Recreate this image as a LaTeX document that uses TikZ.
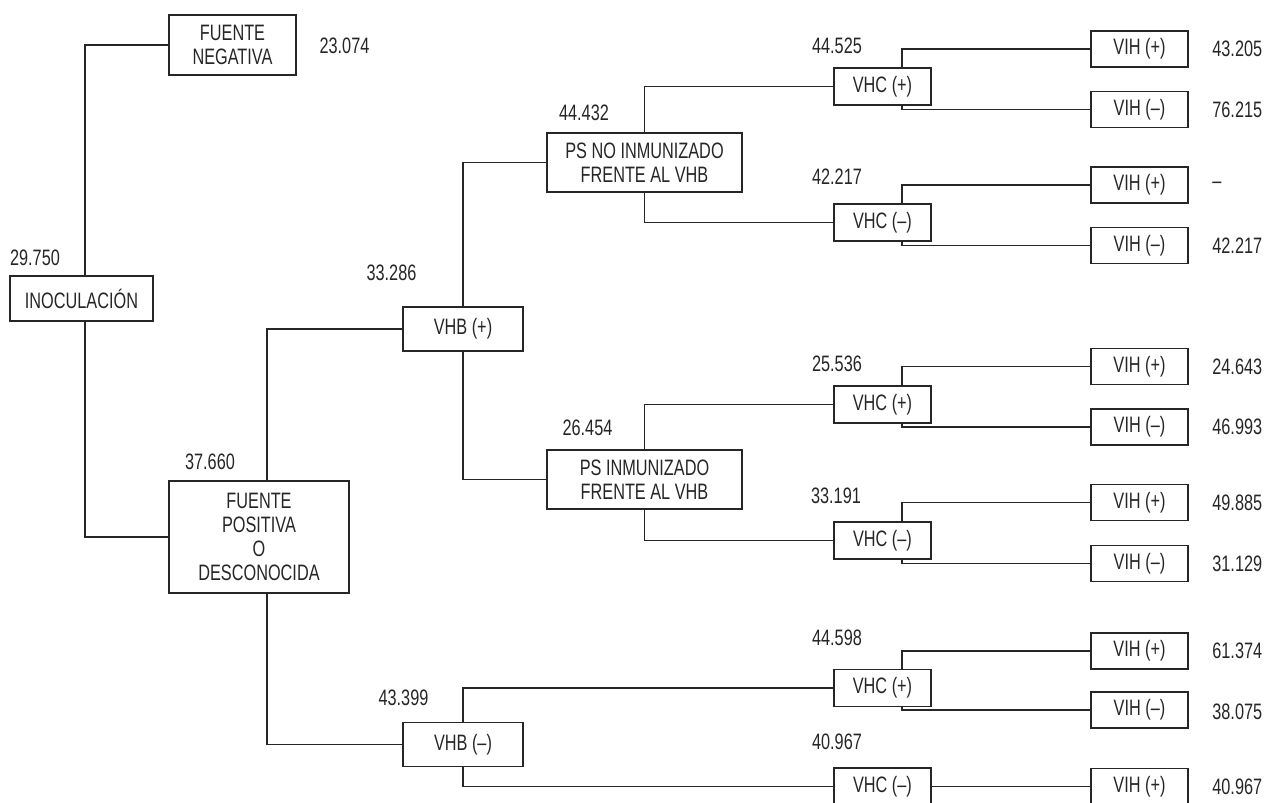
\documentclass[tikz,border=0pt]{standalone}
\usepackage{fontspec}
\setmainfont{Liberation Sans}[FakeStretch=0.73]
\usepackage{tikz}

\begin{document}
\begin{tikzpicture}[x=0.02cm, y=-0.02cm,
    every node/.style={font=\fontsize{12.7}{13.5}\selectfont, text=black!85},
    box/.style={draw=black!85, line width=0.6pt, inner sep=0pt, align=center},
    vhc/.style={box, minimum width=1.94cm, minimum height=0.74cm},
    vih/.style={box, minimum width=1.94cm, minimum height=0.72cm},
    link/.style={draw=black!85, line width=0.6pt}]
        \useasboundingbox (0,0) rectangle (1265,802);
        % left part of the tree
        \node (ino) [box, minimum width=2.86cm, minimum height=0.9cm] at (81.5,298.5) {INOCULACIÓN};
        \node (fneg) [box, minimum width=2.54cm, minimum height=1.2cm] at (232.5,45) {FUENTE\\NEGATIVA};
        \node (fpos) [box, minimum width=3.6cm, minimum height=2.24cm] at (259,537) {FUENTE\\POSITIVA\\O\\DESCONOCIDA};
        \node (vhbp) [box, minimum width=2.4cm, minimum height=0.88cm] at (463,329) {VHB (+)};
        \node (vhbn) [box, minimum width=2.4cm, minimum height=0.88cm] at (463,744.5) {VHB (–)};
        \node (psno) [box, minimum width=3.9cm, minimum height=1.18cm] at (644.5,162.5) {PS NO INMUNIZADO\\FRENTE AL VHB};
        \node (psin) [box, minimum width=3.9cm, minimum height=1.18cm] at (644.5,479.5) {PS INMUNIZADO\\FRENTE AL VHB};
        % VHC
        \node (vhc1) [vhc] at (882.5,86.5) {VHC (+)};
        \node (vhc2) [vhc] at (882.5,222.5) {VHC (–)};
        \node (vhc3) [vhc] at (882.5,404.5) {VHC (+)};
        \node (vhc4) [vhc] at (882.5,540.5) {VHC (–)};
        \node (vhc5) [vhc] at (882.5,688) {VHC (+)};
        \node (vhc6) [vhc] at (882.5,786.5) {VHC (–)};
        % VIH
        \node (vih1) [vih] at (1139.5,49) {VIH (+)};
        \node (vih2) [vih] at (1139.5,109.5) {VIH (–)};
        \node (vih3) [vih] at (1139.5,185) {VIH (+)};
        \node (vih4) [vih] at (1139.5,245.5) {VIH (–)};
        \node (vih5) [vih] at (1139.5,366.5) {VIH (+)};
        \node (vih6) [vih] at (1139.5,427) {VIH (–)};
        \node (vih7) [vih] at (1139.5,502.5) {VIH (+)};
        \node (vih8) [vih] at (1139.5,563.5) {VIH (–)};
        \node (vih9) [vih] at (1139.5,651) {VIH (+)};
        \node (vih10) [vih] at (1139.5,710) {VIH (–)};
        \node (vih11) [vih] at (1139.5,786.5) {VIH (+)};
        % values
        \node (vfneg) at (344.5,46) {23.074};
        \node (vino) at (35,258) {29.750};
        \node (vvhbp) at (391.5,273) {33.286};
        \node (vfpos) at (210,462) {37.660};
        \node (vvhbn) at (403.5,698) {43.399};
        \node (vpsno) at (584,113) {44.432};
        \node (vpsin) at (587.5,428) {26.454};
        \node (vvhc1) at (837,46) {44.525};
        \node (vvhc2) at (837,177) {42.217};
        \node (vvhc3) at (837,364) {25.536};
        \node (vvhc4) at (836,496) {33.191};
        \node (vvhc5) at (837,638) {44.598};
        \node (vvhc6) at (837,742) {40.967};
        \node (vvih1) [anchor=west, inner sep=0pt] at (1212,49) {43.205};
        \node (vvih2) [anchor=west, inner sep=0pt] at (1212,109.5) {76.215};
        \node (vvih3) [anchor=west, inner sep=0pt] at (1212,185) {–};
        \node (vvih4) [anchor=west, inner sep=0pt] at (1212,245.5) {42.217};
        \node (vvih5) [anchor=west, inner sep=0pt] at (1212,366.5) {24.643};
        \node (vvih6) [anchor=west, inner sep=0pt] at (1212,427) {46.993};
        \node (vvih7) [anchor=west, inner sep=0pt] at (1212,502.5) {49.885};
        \node (vvih8) [anchor=west, inner sep=0pt] at (1212,563.5) {31.129};
        \node (vvih9) [anchor=west, inner sep=0pt] at (1212,651) {61.374};
        \node (vvih10) [anchor=west, inner sep=0pt] at (1212,712) {38.075};
        \node (vvih11) [anchor=west, inner sep=0pt] at (1212,786.5) {40.967};
        % branches
        \draw [link] ([xshift=0.07cm]ino.north) |- (fneg.west);
        \draw [link] ([xshift=0.07cm]ino.south) |- (fpos.west);
        \draw [link] ([xshift=0.16cm]fpos.north) |- (vhbp.west);
        \draw [link] ([xshift=0.16cm]fpos.south) |- (vhbn.west);
        \draw [link] (vhbp.north) |- (psno.west);
        \draw [link] (vhbp.south) |- (psin.west);
        \draw [link] (psno.north) |- (vhc1.west);
        \draw [link] (psno.south) |- (vhc2.west);
        \draw [link] (psin.north) |- (vhc3.west);
        \draw [link] (psin.south) |- (vhc4.west);
        \draw [link] (vhbn.north) |- (vhc5.west);
        \draw [link] (vhbn.south) |- (vhc6.west);
        \draw [link] ([xshift=0.39cm]vhc1.north) |- (vih1.west);
        \draw [link] ([xshift=0.39cm]vhc1.south) |- (vih2.west);
        \draw [link] ([xshift=0.39cm]vhc2.north) |- (vih3.west);
        \draw [link] ([xshift=0.39cm]vhc2.south) |- (vih4.west);
        \draw [link] ([xshift=0.39cm]vhc3.north) |- (vih5.west);
        \draw [link] ([xshift=0.39cm]vhc3.south) |- (vih6.west);
        \draw [link] ([xshift=0.39cm]vhc4.north) |- (vih7.west);
        \draw [link] ([xshift=0.39cm]vhc4.south) |- (vih8.west);
        \draw [link] ([xshift=0.39cm]vhc5.north) |- (vih9.west);
        \draw [link] ([xshift=0.39cm]vhc5.south) |- (vih10.west);
        \draw [link] (vhc6.east) -- (vih11.west);
    \end{tikzpicture}
\end{document}
